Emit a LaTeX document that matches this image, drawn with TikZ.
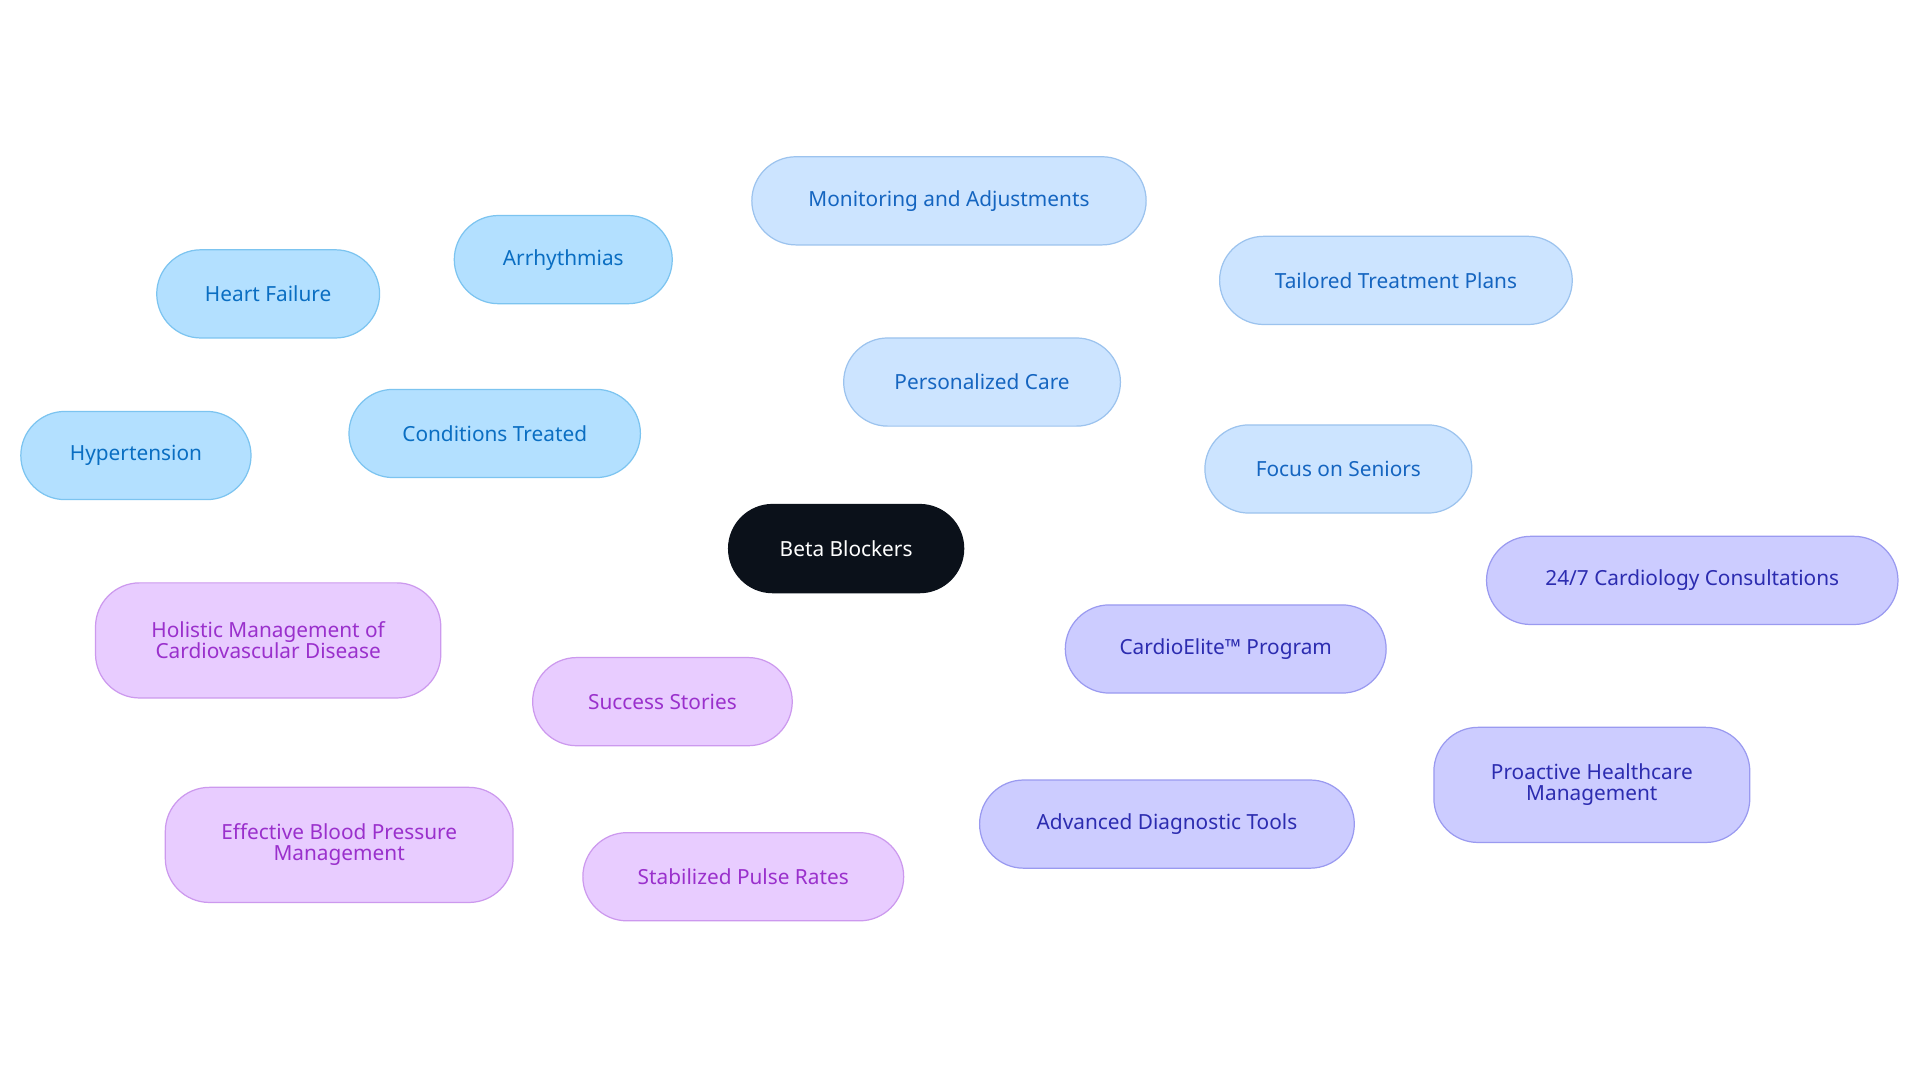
\documentclass[tikz,border=0pt]{standalone}
\usepackage{fontspec}
\setmainfont{Noto Sans}
\definecolor{cA}{HTML}{B3E0FF}\definecolor{bA}{HTML}{7CC4F0}\definecolor{tA}{HTML}{0A6EC2}
\definecolor{cB}{HTML}{CCE4FF}\definecolor{bB}{HTML}{9CC3EE}\definecolor{tB}{HTML}{1565C0}
\definecolor{cC}{HTML}{CCCCFF}\definecolor{bC}{HTML}{9A9AF0}\definecolor{tC}{HTML}{2C2CB0}
\definecolor{cD}{HTML}{E8CCFF}\definecolor{bD}{HTML}{CC99EE}\definecolor{tD}{HTML}{9A30CC}
\definecolor{root}{HTML}{0B111A}
\tikzset{
 n/.style={rounded corners=36pt,minimum height=72pt,align=center,font=\fontsize{17}{19}\selectfont,line width=1pt,inner sep=0pt},
 A/.style={n,fill=cA,draw=bA,text=tA},
 B/.style={n,fill=cB,draw=bB,text=tB},
 C/.style={n,fill=cC,draw=bC,text=tC},
 D/.style={n,fill=cD,draw=bD,text=tD},
 eA/.style={draw=bA,line width=2.5pt},
 eB/.style={draw=bB,line width=2.5pt},
 eC/.style={draw=bC,line width=2.5pt},
 eD/.style={draw=bD,line width=2.5pt},
}
\begin{document}
\begin{tikzpicture}[x=1pt,y=-1pt]
\useasboundingbox[fill=white] (0,0) rectangle (1568,884);
\node[n,fill=root,draw=root,text=white,minimum width=192pt] (r) at (691,448) {Beta Blockers};
\node[A,minimum width=238pt] (ct) at (404,354) {Conditions Treated};
\node[A,minimum width=188pt] (ht) at (111,372) {Hypertension};
\node[A,minimum width=182pt] (hf) at (219,240) {Heart Failure};
\node[A,minimum width=178pt] (ar) at (460,212) {Arrhythmias};
\node[B,minimum width=226pt] (pc) at (802,312) {Personalized Care};
\node[B,minimum width=322pt] (ma) at (775,164) {Monitoring and Adjustments};
\node[B,minimum width=288pt] (tt) at (1140,229) {Tailored Treatment Plans};
\node[B,minimum width=218pt] (fs) at (1093,383) {Focus on Seniors};
\node[C,minimum width=262pt] (ce) at (1001,530) {CardioElite™ Program};
\node[C,minimum width=336pt] (cc) at (1382,474) {24/7 Cardiology Consultations};
\node[C,minimum width=258pt,minimum height=94pt] (ph) at (1300,641) {Proactive Healthcare\\[-2pt]Management};
\node[C,minimum width=306pt] (ad) at (953,673) {Advanced Diagnostic Tools};
\node[D,minimum width=212pt] (ss) at (541,573) {Success Stories};
\node[D,minimum width=282pt,minimum height=94pt] (ho) at (219,523) {Holistic Management of\\[-2pt]Cardiovascular Disease};
\node[D,minimum width=284pt,minimum height=94pt] (eb) at (277,690) {Effective Blood Pressure\\[-2pt]Management};
\node[D,minimum width=262pt] (sp) at (607,716) {Stabilized Pulse Rates};
\begin{scope}[on background layer/.style={}]
\end{scope}
\begin{pgfonlayer}{main}\end{pgfonlayer}
\end{tikzpicture}
\end{document}
